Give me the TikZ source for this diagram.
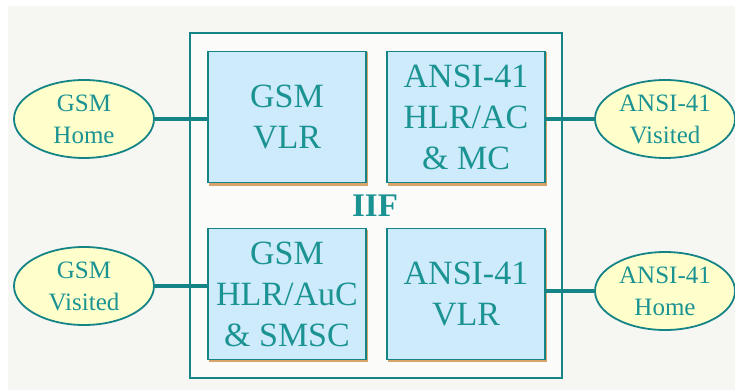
\documentclass[tikz,border=0pt]{standalone}
\usepackage{fontspec}
\setmainfont{Liberation Serif}
\usepackage{tikz}
\usetikzlibrary{shapes.geometric}

\definecolor{iifteal}{HTML}{158486}
\definecolor{iiftext}{HTML}{1C9393}
\definecolor{iifblue}{HTML}{CDEBFA}
\definecolor{iifyellow}{HTML}{FFFFCC}
\definecolor{iifback}{HTML}{F6F6F3}
\definecolor{iifshade}{HTML}{D9A46A}

\tikzset{
  unit/.style={draw=iifteal, line width=1.8pt, fill=iifblue, text=iiftext,
    minimum width=158pt, minimum height=131pt, inner sep=0pt, align=center,
    font=\fontsize{34}{41}\selectfont},
  net/.style={ellipse, draw=iifteal, line width=1.8pt, fill=iifyellow, text=iiftext,
    minimum width=140pt, minimum height=78pt, inner sep=0pt, align=center,
    font=\fontsize{25}{32}\selectfont},
  link/.style={draw=iifteal, line width=3.4pt}
}

\begin{document}
\begin{tikzpicture}[x=1pt, y=-1pt]
      \useasboundingbox (0, 0) rectangle (735, 390);
      \fill[white] (0, 0) rectangle (735, 390);
      \fill[iifback] (8, 6) rectangle (735, 390);
      % IIF frame
      \draw[iifteal, line width=2.5pt, fill=white!60!iifback] (190, 33) rectangle (562, 378);
      \node[font=\bfseries\fontsize{33}{33}\selectfont, text=iiftext] (iif) at (375, 206) {IIF};
      % shadows of the units
      \fill[iifshade] (208.5, 52.5) rectangle (367.5, 185.5);
      \fill[iifshade] (387.5, 52.5) rectangle (546.5, 185.5);
      \fill[iifshade] (208.5, 229.5) rectangle (367.5, 361.5);
      \fill[iifshade] (387.5, 229.5) rectangle (546.5, 361.5);
      % units
      \node[unit] (gvlr) at (287, 117) {GSM\\VLR};
      \node[unit] (ahlr) at (466, 117) {ANSI-41\\HLR/AC\\\& MC};
      \node[unit] (ghlr) at (287, 294) {GSM\\HLR/AuC\\\& SMSC};
      \node[unit] (avlr) at (466, 294) {ANSI-41\\VLR};
      % networks
      \node[net] (gh) at (84, 119) {GSM\\Home};
      \node[net] (gv) at (84, 286) {GSM\\Visited};
      \node[net] (av) at (665, 119) {ANSI-41\\Visited};
      \node[net] (ah) at (665, 291) {ANSI-41\\Home};
      % links
      \draw[link] (gh.east) -- (gh.east -| gvlr.west);
      \draw[link] (gv.east) -- (gv.east -| ghlr.west);
      \draw[link] (av.west) -- (av.west -| ahlr.east);
      \draw[link] (ah.west) -- (ah.west -| avlr.east);
\end{tikzpicture}
\end{document}
